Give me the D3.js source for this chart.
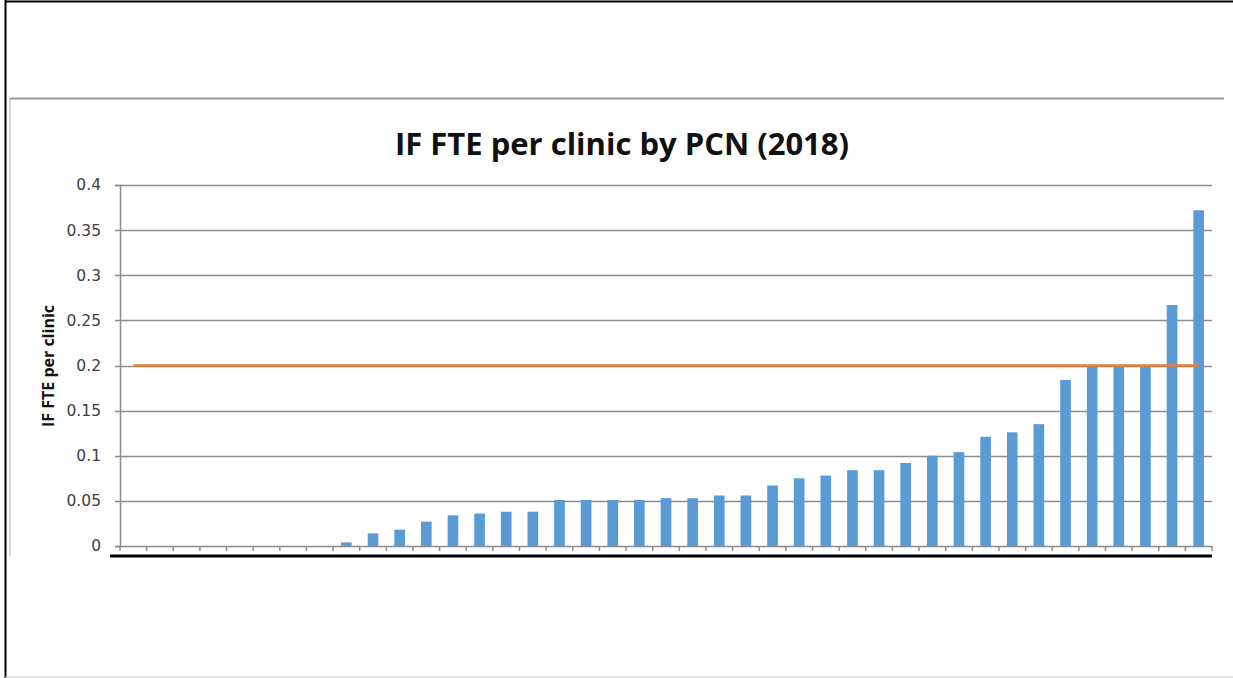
<!DOCTYPE html>
<html lang="en">
<head>
<meta charset="utf-8">
<title>IF FTE per clinic by PCN (2018)</title>
<script src="https://d3js.org/d3.v7.min.js"></script>
<style>
  html, body { margin:0; padding:0; background:#fff; }
  svg { display:block; }
</style>
</head>
<body>
<svg width="1233" height="678"></svg>
<script>
// values, sorted as in the chart
var values = [0, 0, 0, 0, 0, 0, 0, 0,
    0.004, 0.014, 0.018, 0.027, 0.034, 0.036, 0.038, 0.038,
    0.051, 0.051, 0.051, 0.051, 0.053, 0.053, 0.056, 0.056,
    0.067, 0.075, 0.078, 0.084, 0.084, 0.092, 0.100, 0.104,
    0.121, 0.126, 0.135, 0.184, 0.200, 0.200, 0.200, 0.267, 0.372];
var pcns = values.map(function(d, i) { return "PCN " + (i + 1); });
var target = 0.2;
var yTicks = [0, 0.05, 0.1, 0.15, 0.2, 0.25, 0.3, 0.35, 0.4];

var svg = d3.select("svg");

// outer frame
svg.append("line").attr("x1", 5).attr("x2", 1233).attr("y1", 1.5).attr("y2", 1.5)
    .attr("stroke", "#000").attr("stroke-width", 2);
svg.append("line").attr("x1", 5.5).attr("x2", 5.5).attr("y1", 0).attr("y2", 678)
    .attr("stroke", "#000").attr("stroke-width", 2);
svg.append("line").attr("x1", 5).attr("x2", 1233).attr("y1", 677).attr("y2", 677)
    .attr("stroke", "#ccc").attr("stroke-width", 1);
// chart box edge
svg.append("line").attr("x1", 10).attr("x2", 1224).attr("y1", 98.5).attr("y2", 98.5)
    .attr("stroke", "#999").attr("stroke-width", 2);
svg.append("line").attr("x1", 10).attr("x2", 10).attr("y1", 98).attr("y2", 556)
    .attr("stroke", "#aaa").attr("stroke-width", 1);

var plotLeft = 120, plotRight = 1212, plotTop = 185, plotBottom = 546;

var x = d3.scaleBand()
    .domain(pcns)
    .range([plotLeft, plotRight])
    .paddingInner(0.6)
    .paddingOuter(0.3);

var y = d3.scaleLinear()
    .domain([0, 0.4])
    .range([plotBottom, plotTop]);

// gridlines
svg.append("g")
    .selectAll("line")
    .data(yTicks)
    .enter()
    .append("line")
    .attr("x1", plotLeft - 5)
    .attr("x2", plotRight)
    .attr("y1", function(d) { return Math.round(y(d)) + 0.5; })
    .attr("y2", function(d) { return Math.round(y(d)) + 0.5; })
    .attr("stroke", "#8c8c8c")
    .attr("stroke-width", 1.5);

// y axis
var yAxis = svg.append("g")
    .attr("transform", "translate(" + plotLeft + ",0)")
    .call(d3.axisLeft(y).tickValues(yTicks).tickSize(5).tickPadding(14)
        .tickFormat(function(d) { return String(+d.toFixed(2)); }));
yAxis.select(".domain").attr("stroke", "#8c8c8c").attr("stroke-width", 1.5);
yAxis.selectAll(".tick line").remove();
yAxis.selectAll("text")
    .attr("font-family", "DejaVu Sans, sans-serif")
    .attr("font-size", 15.5)
    .attr("fill", "#404040");

// bars
svg.append("g")
    .selectAll("rect")
    .data(values)
    .enter()
    .append("rect")
    .attr("x", function(d, i) { return x(pcns[i]); })
    .attr("width", x.bandwidth())
    .attr("y", function(d) { return y(d); })
    .attr("height", function(d) { return plotBottom - y(d); })
    .attr("fill", "#5b9bd5");

// x axis ticks at category boundaries
var step = x.step();
svg.append("g")
    .selectAll("line")
    .data(d3.range(pcns.length + 1))
    .enter()
    .append("line")
    .attr("x1", function(i) { return plotLeft + i * step; })
    .attr("x2", function(i) { return plotLeft + i * step; })
    .attr("y1", plotBottom)
    .attr("y2", plotBottom + 5)
    .attr("stroke", "#8c8c8c")
    .attr("stroke-width", 1.5);

// target line
var line = d3.line()
    .x(function(d, i) { return x(pcns[i]) + x.bandwidth() / 2; })
    .y(function(d) { return y(d); });
svg.append("path")
    .datum(pcns.map(function() { return target; }))
    .attr("d", line)
    .attr("fill", "none")
    .attr("stroke", "#ed7d31")
    .attr("stroke-width", 2.5);

// thick black line under the axis
svg.append("line")
    .attr("x1", 110).attr("x2", plotRight)
    .attr("y1", 556).attr("y2", 556)
    .attr("stroke", "#000")
    .attr("stroke-width", 3);

// title
svg.append("text")
    .attr("x", 622)
    .attr("y", 155)
    .attr("text-anchor", "middle")
    .attr("font-family", "Open Sans, sans-serif")
    .attr("font-weight", "bold")
    .attr("font-size", 31)
    .attr("fill", "#111")
    .text("IF FTE per clinic by PCN (2018)");

// y label
svg.append("text")
    .attr("transform", "translate(54," + 366 + ") rotate(-90)")
    .attr("text-anchor", "middle")
    .attr("font-family", "Open Sans, sans-serif")
    .attr("font-weight", "bold")
    .attr("font-size", 16)
    .attr("fill", "#111")
    .text("IF FTE per clinic");
</script>
</body>
</html>
